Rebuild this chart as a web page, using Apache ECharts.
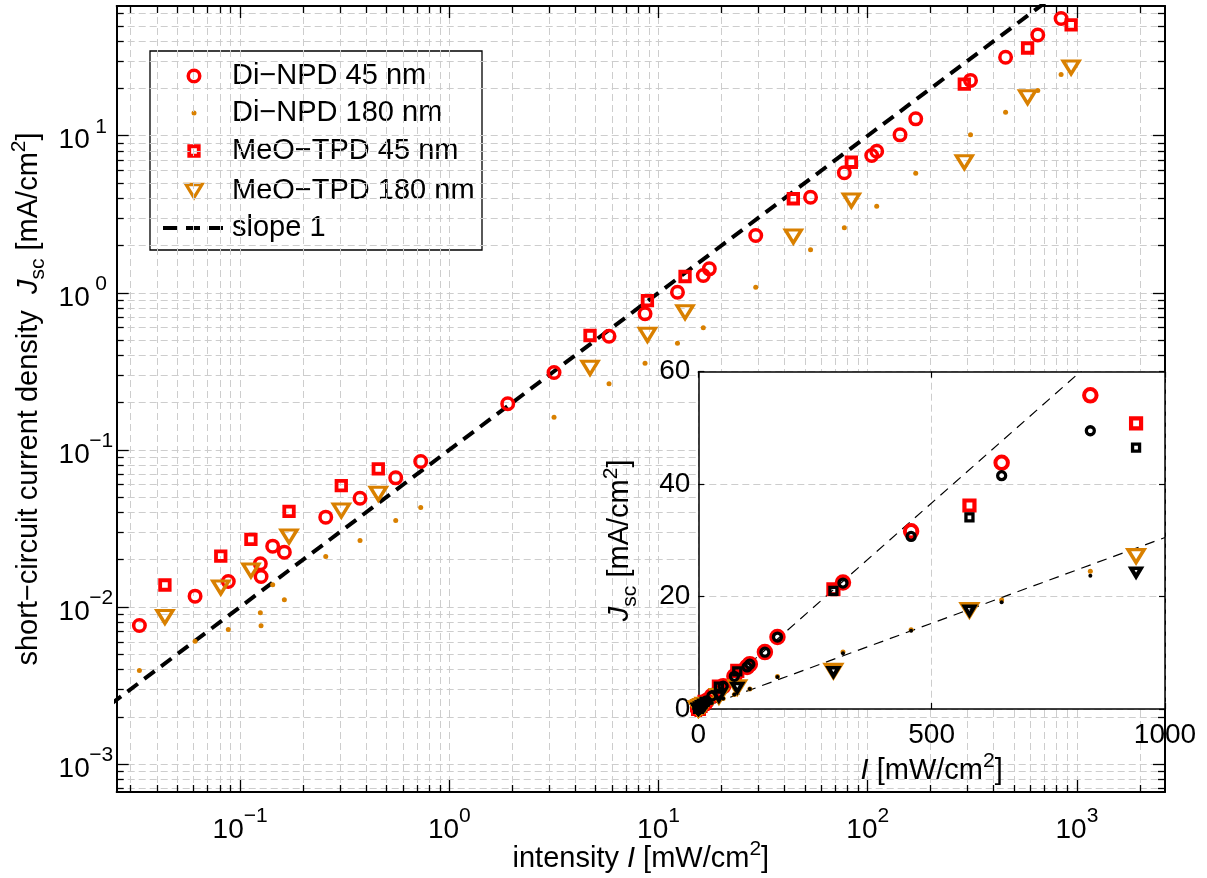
<!DOCTYPE html>
<html><head><meta charset="utf-8">
<script src="https://cdn.jsdelivr.net/npm/echarts@6/dist/echarts.min.js"></script>
<style>html,body{margin:0;padding:0;background:#fff}#c{width:1207px;height:878px}</style>
</head><body><div id="c"></div>
<script>
// ---------- data ----------
// Di-NPD 45 nm (red circles): intensity [mW/cm2], Jsc [mA/cm2]
const diNpd45X = [0.033,0.0609,0.0878,0.1249,0.1259,0.1431,0.1627,0.2566,0.3742,0.5543,0.7299,1.902,3.166,5.80,8.62,12.32,16.37,17.49,29.15,53.3,77.3,104.5,110.4,142.7,169.6,310,456,650,840];
const diNpd45Y = [0.00762,0.01172,0.01453,0.01884,0.01564,0.02438,0.02233,0.0373,0.04927,0.0664,0.0844,0.1965,0.311,0.5294,0.735,1.009,1.289,1.421,2.316,4.06,5.81,7.48,7.97,10.13,12.81,22.5,31.6,43.8,55.8];
const diNpd45Raw = [0.00762,0.01172,0.01453,0.01884,0.01564,0.02438,0.02233,0.0373,0.04927,0.0664,0.0844,0.1965,0.311,0.5294,0.735,1.009,1.289,1.421,2.316,4.06,5.81,7.48,7.97,10.1,12.8,22.4,30.7,41.5,49.5];
// Di-NPD 180 nm (orange dots)
const diNpd180X = [0.033,0.0609,0.0878,0.1249,0.1259,0.1431,0.1627,0.2566,0.3742,0.5543,0.7299,3.166,5.80,8.62,12.32,16.37,29.15,53.3,77.3,110.4,169.6,310,456,650,840];
const diNpd180Y = [0.00394,0.00606,0.00719,0.00919,0.0076,0.01384,0.01111,0.02097,0.02651,0.03553,0.04298,0.1615,0.2635,0.3563,0.4777,0.599,1.085,1.878,2.593,3.558,5.77,10.13,14.11,19.4,24.5];
const diNpd180Raw = [0.00394,0.00606,0.00719,0.00919,0.0076,0.01384,0.01111,0.02097,0.02651,0.03553,0.04298,0.1615,0.2635,0.3563,0.4777,0.599,1.085,1.878,2.593,3.558,5.7,9.9,13.9,19.0,23.7];
// MeO-TPD 45 nm (red squares) and 180 nm (orange triangles) share intensities
const meoTpdX = [0.0437,0.0808,0.1126,0.1713,0.3045,0.4576,4.705,8.85,13.39,44.1,83.5,289.5,581,938];
const meoTpd45Y = [0.0138,0.02105,0.0269,0.04055,0.0593,0.0758,0.535,0.893,1.27,3.97,6.78,21.3,36.2,50.8];
const meoTpd45Raw = [0.0138,0.02105,0.0269,0.04055,0.0593,0.0758,0.535,0.893,1.27,3.97,6.7,21.0,34.1,46.5];
const meoTpd180Y = [0.00864,0.0133,0.01707,0.0281,0.0411,0.0526,0.333,0.540,0.752,2.282,3.87,6.78,17.58,27.2];
const meoTpd180Raw = [0.00864,0.0133,0.01707,0.0281,0.0411,0.0526,0.333,0.540,0.752,2.25,3.8,6.6,17.5,24.3];
// reference lines
const slopeLineX = [0.02, 1000];
const slopeLineY = [0.002, 100];
const fitFastX = [0, 1000];
const fitFastY = [0, 73.3];
const fitSlowX = [0, 1000];
const fitSlowY = [0, 30.5];
// axes (main plot in decades)
const xLogLimits = [-1.590, 3.421];
const yLogLimits = [-3.178, 1.826];
const xMajorExp = [-1, 0, 1, 2, 3];
const yMajorExp = [-3, -2, -1, 0, 1];
const minorMantissas = [2, 3, 4, 5, 6, 7, 8, 9];
const insetXTicks = [0, 500, 1000];
const insetYTicks = [0, 20, 40, 60];
const legendNames = ['Di\u2212NPD 45 nm', 'Di\u2212NPD 180 nm', 'MeO\u2212TPD 45 nm', 'MeO\u2212TPD 180 nm', 'slope 1'];

// ---------- styles ----------
const FONT = '"Liberation Sans", Arial, Helvetica, sans-serif';
const RED = '#ff0000', ORANGE = '#d98000', BLACK = '#000';
const FS = 28;   // tick labels
const FT = 29;   // names / legend
const TRI = 'path://M0,0L20,0L10,17Z';

const lg = v => Math.log10(v);
const pairs = (xs, ys, f) => xs.map((x, i) => f ? [lg(x), lg(ys[i])] : [x, ys[i]]);
function minorVals(lim) {
  const out = [];
  for (let d = Math.floor(lim[0]); d <= Math.ceil(lim[1]); d++)
    for (const m of minorMantissas) { const v = d + lg(m); if (v > lim[0] && v < lim[1]) out.push(v); }
  return out;
}
const majorX = xMajorExp, majorY = yMajorExp;
const minorX = minorVals(xLogLimits), minorY = minorVals(yLogLimits);

const gridLineStyle = {show: true, lineStyle: {color: '#cdcdcd', width: 1, type: [7, 4]}};
const expText = v => String(Math.round(v)).replace('-', '\u2212');
const nameRich = {
  n: {fontSize: FT, fontFamily: FONT, color: BLACK, lineHeight: 40, verticalAlign: 'middle'},
  i: {fontSize: FT, fontFamily: FONT, color: BLACK, fontStyle: 'italic', lineHeight: 40, verticalAlign: 'middle'},
  sub: {fontSize: 21, fontFamily: FONT, color: BLACK, lineHeight: 22, verticalAlign: 'bottom'},
  sup: {fontSize: 21, fontFamily: FONT, color: BLACK, lineHeight: 21, verticalAlign: 'top'}
};

function mainAxis(dim, pos, vals, len, opts) {
  const lim = dim === 'x' ? xLogLimits : yLogLimits;
  return Object.assign({
    type: 'value', gridIndex: 0, position: pos, min: lim[0], max: lim[1],
    axisLine: {show: false, onZero: false},
    axisTick: {show: true, inside: true, length: len, customValues: vals, lineStyle: {color: BLACK, width: 1.3}},
    axisLabel: {show: false},
    splitLine: {show: false},
    z: 1
  }, opts || {});
}
const borderLine = {show: true, onZero: false, lineStyle: {color: BLACK, width: 2}};
const insetLine = {show: true, onZero: false, lineStyle: {color: BLACK, width: 1.5}};
const insetTick = {show: true, inside: true, length: 6, lineStyle: {color: BLACK, width: 1.2}};

const xAxes = [
  mainAxis('x', 'bottom', majorX, 12, {
    axisLine: borderLine, splitLine: gridLineStyle,
    axisLabel: {show: true, customValues: majorX, margin: 14,
      formatter: v => '{b|10}{e|' + expText(v) + '}',
      rich: {b: {fontSize: FS, lineHeight: 38, verticalAlign: 'bottom', fontFamily: FONT, color: BLACK},
             e: {fontSize: 21, lineHeight: 21, verticalAlign: 'top', fontFamily: FONT, color: BLACK}}},
    name: '{n|intensity }{i|I}{n| [mW/cm}{sup|2}{n|]}', nameLocation: 'middle', nameGap: 47, nameMoveOverlap: false,
    nameTextStyle: {rich: nameRich}
  }),
  mainAxis('x', 'bottom', minorX, 7, {splitLine: gridLineStyle}),
  mainAxis('x', 'top', majorX, 12, {axisLine: borderLine}),
  mainAxis('x', 'top', minorX, 7),
  {type: 'value', gridIndex: 1, position: 'bottom', min: insetXTicks[0], max: insetXTicks[2], interval: insetXTicks[1],
   axisLine: insetLine, axisTick: insetTick,
   axisLabel: {show: true, margin: 12, fontSize: FS, fontFamily: FONT, color: BLACK, formatter: v => String(v)},
   splitLine: gridLineStyle,
   name: '{i|I}{n| [mW/cm}{sup|2}{n|]}', nameLocation: 'middle', nameGap: 42, nameMoveOverlap: false,
   nameTextStyle: {rich: nameRich}, z: 5},
  {type: 'value', gridIndex: 1, position: 'top', min: insetXTicks[0], max: insetXTicks[2], interval: insetXTicks[1],
   axisLine: insetLine, axisTick: insetTick, axisLabel: {show: false}, splitLine: {show: false}, z: 5}
];

const yAxes = [
  mainAxis('y', 'left', majorY, 12, {
    axisLine: borderLine, splitLine: gridLineStyle,
    axisLabel: {show: true, customValues: majorY, margin: 4, align: 'right',
      formatter: v => '{b|10}{e|' + expText(v) + '}',
      rich: {b: {fontSize: FS, lineHeight: 38, verticalAlign: 'bottom', fontFamily: FONT, color: BLACK},
             e: {fontSize: 21, lineHeight: 21, verticalAlign: 'top', width: 23, align: 'left', fontFamily: FONT, color: BLACK}}},
    name: '{n|short\u2212circuit current density  }{i|J}{sub|sc}{n| [mA/cm}{sup|2}{n|]}', nameLocation: 'middle', nameGap: 68, nameMoveOverlap: false,
    nameTextStyle: {rich: nameRich}
  }),
  mainAxis('y', 'left', minorY, 7, {splitLine: gridLineStyle}),
  mainAxis('y', 'right', majorY, 12, {axisLine: borderLine}),
  mainAxis('y', 'right', minorY, 7),
  {type: 'value', gridIndex: 1, position: 'left', min: insetYTicks[0], max: insetYTicks[3], interval: insetYTicks[1],
   axisLine: insetLine, axisTick: insetTick,
   axisLabel: {show: true, margin: 8, fontSize: FS, fontFamily: FONT, color: BLACK},
   splitLine: gridLineStyle,
   name: '{i|J}{sub|sc}{n| [mA/cm}{sup|2}{n|]}', nameLocation: 'middle', nameGap: 58, nameMoveOverlap: false,
   nameTextStyle: {rich: nameRich}, z: 5},
  {type: 'value', gridIndex: 1, position: 'right', min: insetYTicks[0], max: insetYTicks[3], interval: insetYTicks[1],
   axisLine: insetLine, axisTick: insetTick, axisLabel: {show: false}, splitLine: {show: false}, z: 5}
];

// marker styles
const ringCircle = (c, s, w) => ({type: 'scatter', symbol: 'circle', symbolSize: s, itemStyle: {color: 'rgba(0,0,0,0)', borderColor: c, borderWidth: w, opacity: 1}});
const ringSquare = (c, s, w) => ({type: 'scatter', symbol: 'rect', symbolSize: s, itemStyle: {color: 'rgba(0,0,0,0)', borderColor: c, borderWidth: w, opacity: 1}});
const ringTri = (c, s, w) => ({type: 'scatter', symbol: TRI, symbolSize: s, itemStyle: {color: 'rgba(0,0,0,0)', borderColor: c, borderWidth: w, borderJoin: 'miter', opacity: 1}});
const dot = (c, s) => ({type: 'scatter', symbol: 'circle', symbolSize: s, itemStyle: {color: c, opacity: 1}});
const on = (base, name, data, xi, yi, z) => Object.assign(base, {name, data, xAxisIndex: xi, yAxisIndex: yi, z, silent: true, animation: false});

const series = [
  {type: 'line', name: legendNames[4], data: pairs(slopeLineX, slopeLineY, true), xAxisIndex: 0, yAxisIndex: 0,
   symbol: 'none', lineStyle: {color: BLACK, width: 4, type: [13, 8]}, z: 2, clip: true, silent: true, animation: false},
  on(ringCircle(RED, 11.5, 3.5), legendNames[0], pairs(diNpd45X, diNpd45Y, true), 0, 0, 3),
  on(dot(ORANGE, 5), legendNames[1], pairs(diNpd180X, diNpd180Y, true), 0, 0, 3),
  on(ringSquare(RED, 9.5, 3.8), legendNames[2], pairs(meoTpdX, meoTpd45Y, true), 0, 0, 3),
  on(ringTri(ORANGE, [16, 13], 3.3), legendNames[3], pairs(meoTpdX, meoTpd180Y, true), 0, 0, 3),
  // inset, linear scale
  {type: 'line', name: 'fit 45', data: pairs(fitFastX, fitFastY), xAxisIndex: 4, yAxisIndex: 4,
   symbol: 'none', lineStyle: {color: BLACK, width: 1.2, type: [10, 7]}, z: 6, clip: true, silent: true, animation: false},
  {type: 'line', name: 'fit 180', data: pairs(fitSlowX, fitSlowY), xAxisIndex: 4, yAxisIndex: 4,
   symbol: 'none', lineStyle: {color: BLACK, width: 1.2, type: [10, 7]}, z: 6, clip: true, silent: true, animation: false},
  on(ringCircle(RED, 12.5, 4), 'inset ' + legendNames[0], pairs(diNpd45X, diNpd45Y), 4, 4, 7),
  on(dot(ORANGE, 5), 'inset ' + legendNames[1], pairs(diNpd180X, diNpd180Y), 4, 4, 7),
  on(ringSquare(RED, 10, 4.2), 'inset ' + legendNames[2], pairs(meoTpdX, meoTpd45Y), 4, 4, 7),
  on(ringTri(ORANGE, [16, 13], 3.5), 'inset ' + legendNames[3], pairs(meoTpdX, meoTpd180Y), 4, 4, 7),
  on(ringCircle(BLACK, 8, 3.3), 'raw ' + legendNames[0], pairs(diNpd45X, diNpd45Raw), 4, 4, 8),
  on(dot(BLACK, 4), 'raw ' + legendNames[1], pairs(diNpd180X, diNpd180Raw), 4, 4, 8),
  on(ringSquare(BLACK, 7, 3.3), 'raw ' + legendNames[2], pairs(meoTpdX, meoTpd45Raw), 4, 4, 8),
  on(ringTri(BLACK, [10, 8.5], 3.8), 'raw ' + legendNames[3], pairs(meoTpdX, meoTpd180Raw), 4, 4, 8)
];

// legend drawn as graphic (MATLAB style)
const LX = 150, LY = 51, LW = 332, LH = 199, SX = 194, TX = 232;
const rowY = [76, 113, 151, 191, 228];
const txt = (y, s) => ({type: 'text', x: TX, y: y, style: {text: s, font: FT + 'px ' + FONT, fill: BLACK, textVerticalAlign: 'middle', verticalAlign: 'middle'}});
const legendGroup = {type: 'group', z: 50, children: [
  {type: 'rect', shape: {x: LX, y: LY, width: LW, height: LH}, style: {fill: '#fff', stroke: BLACK, lineWidth: 1.3}},
  {type: 'circle', shape: {cx: SX, cy: rowY[0], r: 5.75}, style: {fill: 'none', stroke: RED, lineWidth: 3.5}},
  {type: 'circle', shape: {cx: SX, cy: rowY[1], r: 2.5}, style: {fill: ORANGE}},
  {type: 'rect', shape: {x: SX - 4.75, y: rowY[2] - 4.75, width: 9.5, height: 9.5}, style: {fill: 'none', stroke: RED, lineWidth: 3.8}},
  {type: 'polygon', shape: {points: [[SX - 8, rowY[3] - 6.5], [SX + 8, rowY[3] - 6.5], [SX, rowY[3] + 6.5]]}, style: {fill: 'none', stroke: ORANGE, lineWidth: 3.3}},
  {type: 'line', shape: {x1: 163, y1: rowY[4], x2: 224, y2: rowY[4]}, style: {stroke: BLACK, lineWidth: 4, lineDash: [14, 9]}},
  txt(rowY[0], legendNames[0]), txt(rowY[1], legendNames[1]), txt(rowY[2], legendNames[2]),
  txt(rowY[3], legendNames[3]), txt(rowY[4], legendNames[4])
]};
const insetNote = {type: 'group', z: 50, children: [
  {type: 'rect', shape: {x: 708, y: 377, width: 329, height: 65}, style: {fill: '#fff', stroke: BLACK, lineWidth: 1.3}},
  {type: 'text', x: 719, y: 408, style: {
    text: '{n|black: not R}{s|S}{n|corrected}', verticalAlign: 'middle', textVerticalAlign: 'middle',
    rich: {n: {fontSize: FT, fontFamily: FONT, fill: BLACK, color: BLACK, lineHeight: 40, verticalAlign: 'middle'},
           s: {fontSize: 22, fontFamily: FONT, fill: BLACK, color: BLACK, lineHeight: 22, verticalAlign: 'bottom'}}}}
]};

const chart = echarts.init(document.getElementById('c'), null, {renderer: 'canvas'});
chart.setOption({
  animation: false,
  backgroundColor: '#fff',
  textStyle: {fontFamily: FONT},
  grid: [
    {left: 116.7, top: 6, width: 1048.3, height: 786, show: false, outerBoundsMode: 'none', containLabel: false},
    {left: 698.3, top: 371.7, width: 466.7, height: 337.3, show: true, backgroundColor: '#fff', borderColor: '#fff', borderWidth: 0, z: 4, outerBoundsMode: 'none', containLabel: false}
  ],
  xAxis: xAxes,
  yAxis: yAxes,
  series: series,
  graphic: [legendGroup, insetNote]
});
</script></body></html>
